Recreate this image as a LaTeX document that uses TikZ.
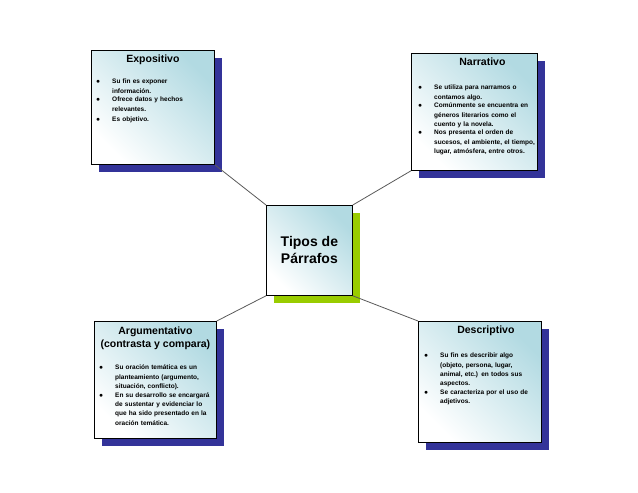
\documentclass[tikz,border=0pt]{standalone}
\usepackage{fontspec}
\setmainfont{Liberation Sans}
\usetikzlibrary{positioning}
\definecolor{navy}{RGB}{51,51,153}
\definecolor{lime}{RGB}{153,204,0}
\definecolor{paleblue}{RGB}{178,218,226}
\newcommand\bodyfont{\bfseries\fontsize{6.5}{9.3}\selectfont}
\newcommand\bitem[2]{\noindent\makebox[16pt][l]{\scriptsize$\bullet$}\parbox[t]{#1}{\bodyfont\raggedright #2\strut}\par}
\tikzset{
  card/.style={draw=black, thick, anchor=north west, inner sep=0pt,
    top color=paleblue, bottom color=white, shading angle=-45},
  title/.style={font=\bfseries\fontsize{10.5}{13}\selectfont, align=center},
  body/.style={font=\bodyfont, text width=#1, align=left, anchor=north west, inner sep=0pt},
  link/.style={draw=gray!70!black, thick}
}
\begin{document}
\begin{tikzpicture}[x=1pt,y=-1pt]
	\useasboundingbox (0,0) rectangle (638,493);
	% shadows
	\fill [navy] (99,58) rectangle (222,172);
	\fill [navy] (419,61) rectangle (545,178);
	\fill [navy] (102,329) rectangle (224,446);
	\fill [navy] (426,329) rectangle (549,450);
	\fill [lime] (274,213) rectangle (360,303);
	% cards
	\node [card, minimum width=123pt, minimum height=114pt] (expo) at (91,50) {};
	\node [card, minimum width=126pt, minimum height=117pt] (narr) at (411,53) {};
	\node [card, minimum width=122pt, minimum height=117pt] (argu) at (94,321) {};
	\node [card, minimum width=123pt, minimum height=121pt] (desc) at (418,321) {};
	\node [card, minimum width=86pt, minimum height=90pt] (tipos) at (266,205) {};
	% links
	\draw [link] (expo.south east) -- (tipos.north west);
	\draw [link] (narr.south west) -- (tipos.north east);
	\draw [link] (argu.north east) -- (tipos.south west);
	\draw [link] (desc.north west) -- (tipos.south east);
	% texts
	\node [font=\bfseries\fontsize{14}{17}\selectfont, align=center] (tiposlabel) at (tipos.center) {Tipos de\\Párrafos};
	\node [title, below=1pt of expo.north] (expotitle) {Expositivo};
	\node [body=110pt] (expobody) at (96,79) {
		\bitem{92pt}{Su fin es exponer\\información.}
		\bitem{92pt}{Ofrece datos y hechos\\relevantes.}
		\bitem{92pt}{Es objetivo.}};
	\node [title, below=1pt of narr.north, xshift=8pt] (narrtitle) {Narrativo};
	\node [body=122pt] (narrbody) at (418,85) {
		\bitem{106pt}{Se utiliza para narramos o\\contamos algo.}
		\bitem{106pt}{Comúnmente se encuentra en\\géneros literarios como el\\cuento y la novela.}
		\bitem{106pt}{Nos presenta el orden de\\sucesos, el ambiente, el tiempo,\\lugar, atmósfera, entre otros.}};
	\node [title, below=2pt of argu.north] (argutitle) {Argumentativo\\(contrasta y compara)};
	\node [body=116pt] (argubody) at (99,365) {
		\bitem{100pt}{Su oración temática es un\\planteamiento (argumento,\\situación, conflicto).}
		\bitem{100pt}{En su desarrollo se encargará\\de sustentar y evidenciar lo\\que ha sido presentado en la\\oración temática.}};
	\node [title, below=1pt of desc.north, xshift=6pt] (desctitle) {Descriptivo};
	\node [body=116pt] (descbody) at (424,353) {
		\bitem{100pt}{Su fin es describir algo\\(objeto, persona, lugar,\\animal, etc.) en todos sus\\aspectos.}
		\bitem{100pt}{Se caracteriza por el uso de\\adjetivos.}};
\end{tikzpicture}
\end{document}
